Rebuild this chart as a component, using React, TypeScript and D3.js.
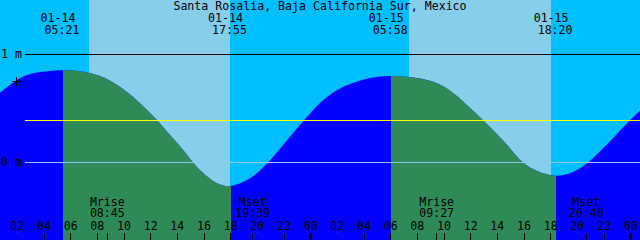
import React from "react";
import * as d3 from "d3";

const W = 640;
const H = 240;

const title = "Santa Rosalia, Baja California Sur, Mexico";

// tide curve: hours since 01-14 00:00, height in metres
const tideHours = [0.7, 2.2, 3.175, 4.45, 5.35, 6.93, 8.2, 9.48, 10.68, 11.95, 12.48, 13.23, 14.43, 15.18, 15.7, 16.98, 17.92, 19.45, 20.8, 21.93, 23.5, 24.7, 25.98, 27.18, 28.45, 29.97, 32.2, 33.48, 34.68, 35.95, 36.93, 38.43, 39.93, 40.98, 42.33, 43.45, 44.8, 45.93, 47.95, 48.7];
const tideHeights = [0.646, 0.78, 0.826, 0.847, 0.854, 0.841, 0.801, 0.718, 0.606, 0.458, 0.391, 0.285, 0.116, 0.0, -0.071, -0.192, -0.218, -0.146, 0.0, 0.162, 0.391, 0.551, 0.671, 0.736, 0.782, 0.801, 0.778, 0.733, 0.644, 0.505, 0.391, 0.204, 0.0, -0.079, -0.122, -0.1, 0.0, 0.131, 0.391, 0.48];

// high / low tide events (top labels)
const tideEvents = ["01-14 05:21", "01-14 17:55", "01-15 05:58", "01-15 18:20"];
const tideKinds = ["high", "low", "high", "low"];

// sunrise / sunset
const sunrises = ["01-14 07:22", "01-15 07:22"];
const sunsets = ["01-14 17:57", "01-15 18:01"];

// moon events
const moonNames = ["Mrise", "Mset", "Mrise", "Mset"];
const moonTimes = ["01-14 08:45", "01-14 19:39", "01-15 09:27", "01-15 20:40"];

// axis
const hourTicks = [2, 4, 6, 8, 10, 12, 14, 16, 18, 20, 22, 24, 26, 28, 30, 32, 34, 36, 38, 40, 42, 44, 46, 48];
const levelTicks = [1, 0];
const levelLabels = ["1 m", "0 m"];
const meanSeaLevel = 0.389;
const markerLevel = 0.75;
const timeDomain = [0.7, 48.7];

const COL = {
  night: "#00bfff",
  day: "#87ceeb",
  flood: "#0000ff",
  ebb: "#2e8b57",
  msl: "#ffff00",
  datum: "#87ceeb",
  fg: "#000000",
};

const FONT = "'DejaVu Sans Mono', 'Liberation Mono', monospace";
const FS = 11.6;

function hrs(s: string): number {
  const day = +s.slice(3, 5) - 14;
  const h = +s.slice(6, 8);
  const m = +s.slice(9, 11);
  return day * 24 + h + m / 60;
}

export default function App() {
  const x = d3.scaleLinear().domain(timeDomain).range([0, W]);
  const y = d3.scaleLinear().domain([0, 1]).range([162.5, 54.5]);

  const pts = tideHours.map((t, i) => [t, tideHeights[i]] as [number, number]);
  const area = d3
    .area<[number, number]>()
    .x((d) => x(d[0]))
    .y0(H)
    .y1((d) => y(d[1]))
    .curve(d3.curveCatmullRom.alpha(0.5));
  const areaPath = area(pts) || "";

  // ebb intervals: from each high to the following low
  const ebb: [number, number][] = [];
  for (let i = 0; i < tideEvents.length; i++) {
    if (tideKinds[i] === "high" && i + 1 < tideEvents.length) {
      ebb.push([hrs(tideEvents[i]), hrs(tideEvents[i + 1])]);
    }
  }

  const days = sunrises.map((s, i) => [hrs(s), hrs(sunsets[i])]);

  const txt = {
    fontFamily: FONT,
    fontSize: FS,
    fill: COL.fg,
  } as React.CSSProperties;

  return (
    <svg
      width={W}
      height={H}
      style={{ position: "absolute", left: 0, top: 0, display: "block" }}
    >
      <defs>
        <clipPath id="tide">
          <path d={areaPath} />
        </clipPath>
      </defs>
      <rect x={0} y={0} width={W} height={H} fill={COL.night} />
      {days.map(([a, b], i) => (
        <rect key={"d" + i} x={x(a)} y={0} width={x(b) - x(a)} height={H} fill={COL.day} shapeRendering="crispEdges" />
      ))}
      <g clipPath="url(#tide)">
        <rect x={0} y={0} width={W} height={H} fill={COL.flood} />
        {ebb.map(([a, b], i) => (
          <rect key={"e" + i} x={x(a) + 1} y={0} width={x(b) - x(a)} height={H} fill={COL.ebb} shapeRendering="crispEdges" />
        ))}
      </g>

      {/* level lines */}
      <line x1={25} x2={W} y1={y(1)} y2={y(1)} stroke={COL.fg} strokeWidth={1} shapeRendering="crispEdges" />
      <line x1={25} x2={W} y1={y(meanSeaLevel)} y2={y(meanSeaLevel)} stroke={COL.msl} strokeWidth={1} shapeRendering="crispEdges" />
      <line x1={25} x2={W} y1={y(0)} y2={y(0)} stroke={COL.datum} strokeWidth={1} shapeRendering="crispEdges" />
      {levelTicks.map((v, i) => (
        <text key={"l" + i} x={1} y={y(v) + 3.5} style={txt}>
          {levelLabels[i]}
        </text>
      ))}
      <path
        d={`M12,${y(markerLevel)}H21M16.5,${y(markerLevel) - 4.5}V${y(markerLevel) + 4.5}`}
        stroke={COL.fg}
        strokeWidth={1}
        shapeRendering="crispEdges"
      />

      {/* title */}
      <text x={W / 2} y={10} textAnchor="middle" style={txt}>
        {title}
      </text>

      {/* tide event labels */}
      {tideEvents.map((s, i) => {
        const cx = x(hrs(s));
        return (
          <g key={"t" + i}>
            <text x={cx - 4} y={21.5} textAnchor="middle" style={txt}>
              {s.slice(0, 5)}
            </text>
            <text x={cx} y={33.8} textAnchor="middle" style={txt}>
              {s.slice(6)}
            </text>
          </g>
        );
      })}

      {/* moon labels */}
      {moonTimes.map((s, i) => {
        const cx = x(hrs(s));
        return (
          <g key={"m" + i}>
            <text x={cx} y={205.5} textAnchor="middle" style={txt}>
              {moonNames[i]}
            </text>
            <text x={cx} y={217.2} textAnchor="middle" style={txt}>
              {s.slice(6)}
            </text>
            <line x1={cx} x2={cx} y1={233} y2={H} stroke={COL.fg} strokeWidth={1} shapeRendering="crispEdges" />
          </g>
        );
      })}

      {/* hour axis */}
      {hourTicks.map((h) => {
        const cx = x(h);
        const mid = h % 24 === 0;
        return (
          <g key={"h" + h}>
            <text x={cx} y={229.5} textAnchor="middle" style={txt}>
              {String(h % 24).padStart(2, "0")}
            </text>
            <line x1={cx} x2={cx} y1={233} y2={H} stroke={COL.fg} strokeWidth={mid ? 3 : 1} shapeRendering="crispEdges" />
          </g>
        );
      })}
    </svg>
  );
}
